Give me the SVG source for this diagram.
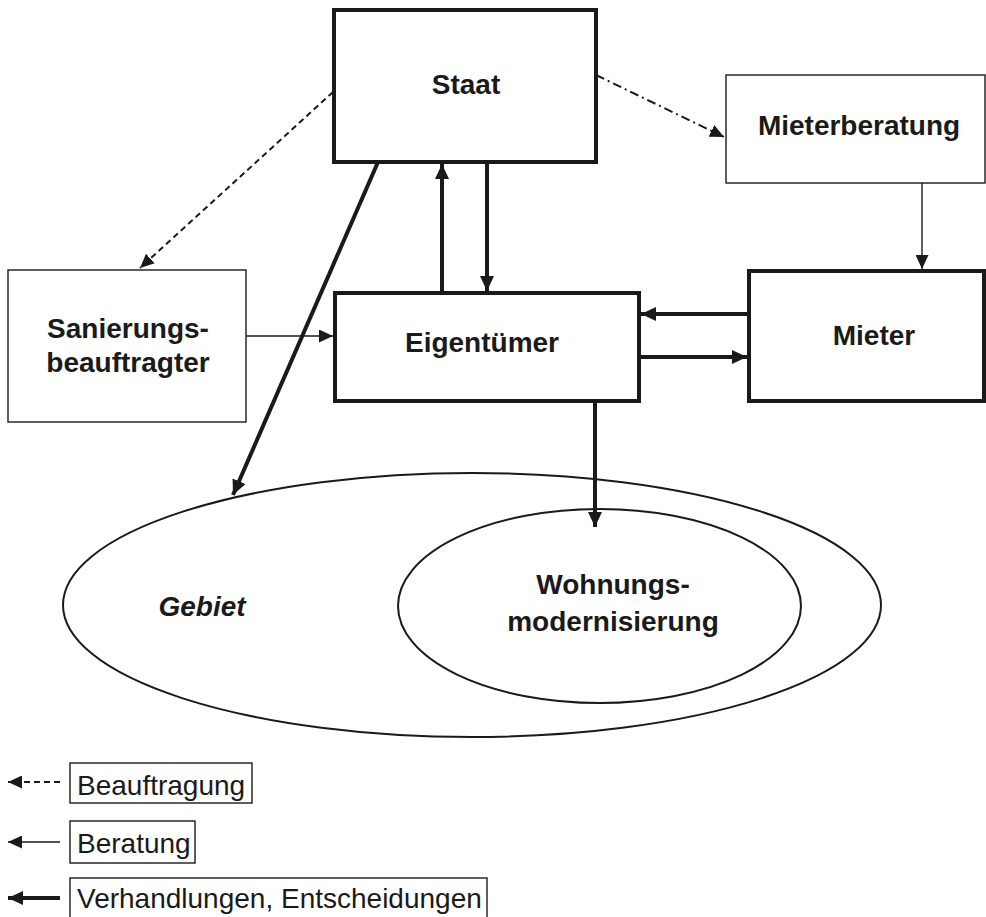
<svg xmlns="http://www.w3.org/2000/svg" width="986" height="917" viewBox="0 0 986 917">
<style>
.thick{fill:#fff;stroke:#1a1a1a;stroke-width:4}
.thin{fill:#fff;stroke:#1a1a1a;stroke-width:1.4}
.lbl{font-family:"Liberation Sans",Arial,sans-serif;font-weight:bold;font-size:28px;fill:#1a1a1a;text-anchor:middle}
.leg{font-family:"Liberation Sans",Arial,sans-serif;font-size:28px;fill:#1a1a1a}
.c-thick{fill:none;stroke:#1a1a1a;stroke-width:4;marker-end:url(#ahT)}
.c-thin{fill:none;stroke:#1a1a1a;stroke-width:1.4;marker-end:url(#ahS)}
.c-dash{fill:none;stroke:#1a1a1a;stroke-width:2;stroke-dasharray:6 4;marker-end:url(#ahS)}
.c-dd{fill:none;stroke:#1a1a1a;stroke-width:2;stroke-dasharray:9 4 2 4;marker-end:url(#ahS)}
</style>
<defs>
<marker id="ahT" markerUnits="userSpaceOnUse" markerWidth="16" markerHeight="14" refX="15" refY="7" orient="auto"><path d="M0,0 L15,7 L0,14 z" fill="#1a1a1a"/></marker>
<marker id="ahS" markerUnits="userSpaceOnUse" markerWidth="15" markerHeight="13" refX="14" refY="6.5" orient="auto"><path d="M0,0 L14,6.5 L0,13 z" fill="#1a1a1a"/></marker>
</defs>
<rect width="986" height="917" fill="#fff"/>

<g id="gebiet">
<ellipse cx="472" cy="605" rx="409" ry="132" fill="#fff" stroke="#1a1a1a" stroke-width="2"/>
<text class="lbl" x="202" y="616" font-style="italic" font-size="29">Gebiet</text>
</g>
<g id="wohnungsmodernisierung">
<ellipse cx="599.5" cy="606" rx="201.5" ry="97" fill="#fff" stroke="#1a1a1a" stroke-width="2"/>
<text class="lbl" x="613" y="594">Wohnungs-</text>
<text class="lbl" x="613" y="631">modernisierung</text>
</g>

<g id="staat">
<rect class="thick" x="334" y="10" width="262" height="152"/>
<text class="lbl" x="466" y="94">Staat</text>
</g>
<g id="mieterberatung">
<rect class="thin" x="726" y="75" width="259" height="108"/>
<text class="lbl" x="859" y="135">Mieterberatung</text>
</g>
<g id="sanierungsbeauftragter">
<rect class="thin" x="8" y="270" width="238" height="152"/>
<text class="lbl" x="128" y="338">Sanierungs-</text>
<text class="lbl" x="128" y="372">beauftragter</text>
</g>
<g id="eigentuemer">
<rect class="thick" x="335" y="293" width="304" height="108"/>
<text class="lbl" x="482" y="352">Eigentümer</text>
</g>
<g id="mieter">
<rect class="thick" x="749" y="271" width="235" height="130"/>
<text class="lbl" x="874" y="345">Mieter</text>
</g>

<g id="connectors">
<path class="c-dash" d="M333,92 L140,268"/>
<path class="c-dd" d="M596,75 L724,137"/>
<path class="c-thick" d="M378,162 L233,495"/>
<path class="c-thick" d="M442,291 L442,164"/>
<path class="c-thick" d="M487,164 L487,291"/>
<path class="c-thin" d="M246,336 L333,336"/>
<path class="c-thin" d="M922,183 L922,269"/>
<path class="c-thick" d="M748,314 L641,314"/>
<path class="c-thick" d="M640,357 L747,357"/>
<path class="c-thick" d="M595,401 L595,527"/>
</g>

<g id="legend">
<path class="c-dash" d="M60,782 L8,782"/>
<rect class="thin" x="70" y="763" width="182" height="40"/>
<text class="leg" x="77" y="795">Beauftragung</text>
<path class="c-thin" d="M60,842 L8,842"/>
<rect class="thin" x="70" y="821" width="125" height="42"/>
<text class="leg" x="77" y="853">Beratung</text>
<path class="c-thick" d="M60,898 L8,898"/>
<rect class="thin" x="70" y="878" width="417" height="50"/>
<text class="leg" x="77" y="908">Verhandlungen, Entscheidungen</text>
</g>
</svg>
